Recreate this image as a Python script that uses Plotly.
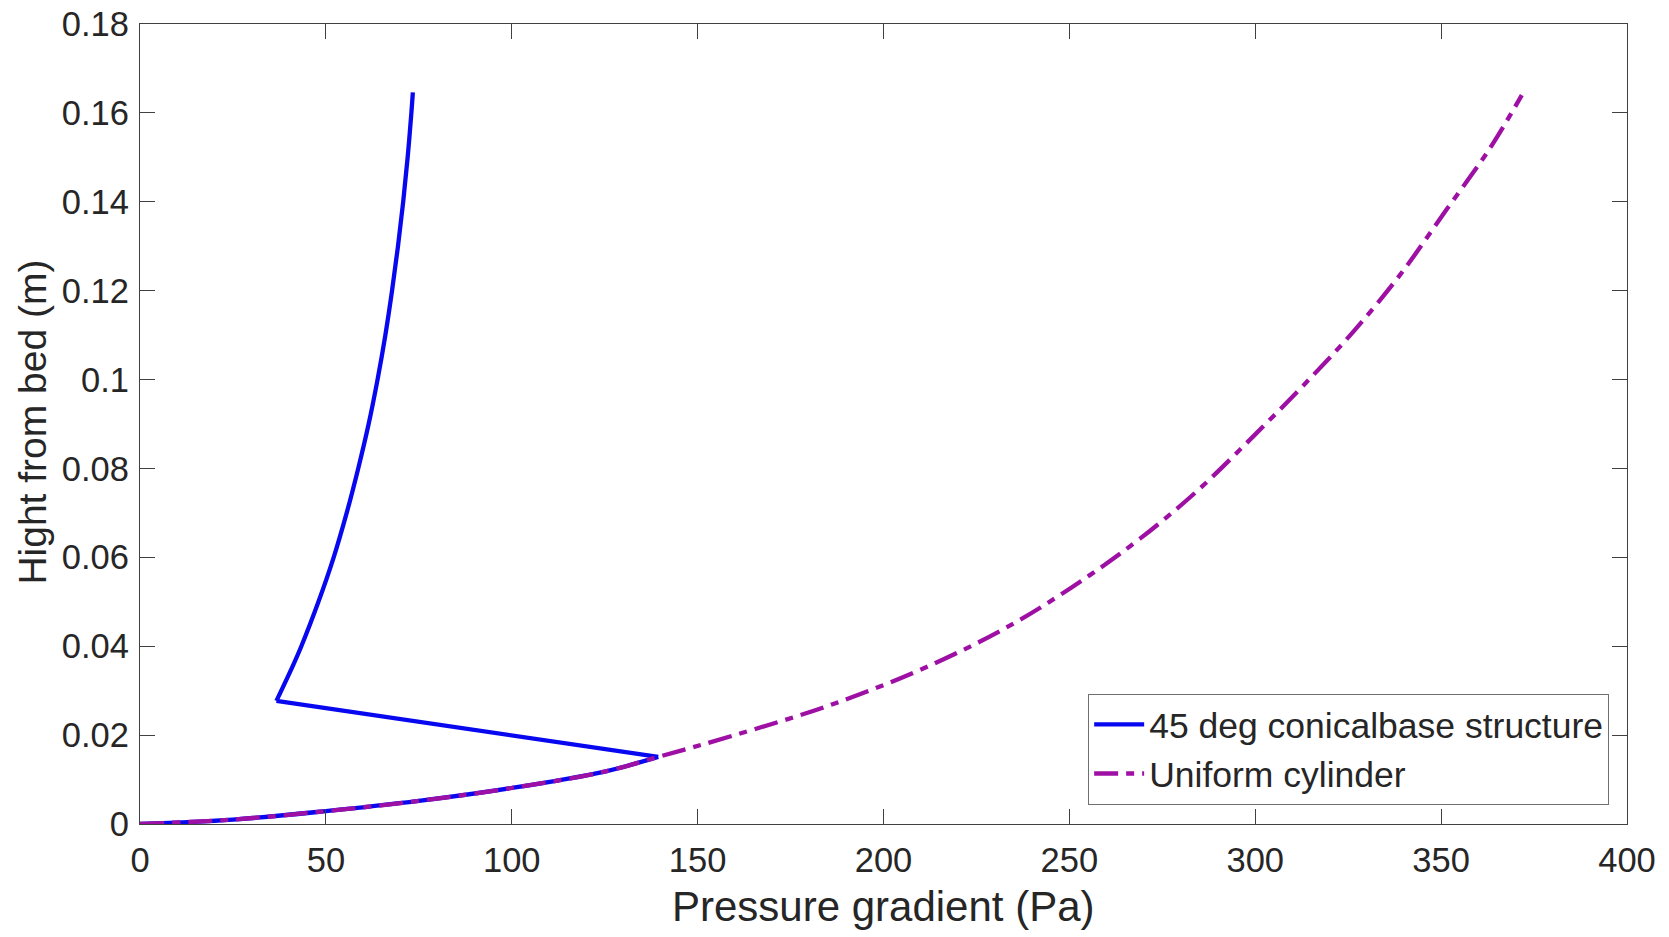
import plotly.graph_objects as go

# Pressure gradient (Pa) vs height above the bed (m)

# Uniform cylinder
cyl_pressure = [0, 25, 50, 75, 100, 125, 139.4, 159.6, 186.5, 213.4, 235.8, 255.5,
                269.0, 284.2, 300.4, 315.6, 326.4, 338.9, 351.5, 363.1, 371.7]
cyl_height = [0, 0.0010, 0.0029, 0.0052, 0.0081, 0.0118, 0.0151, 0.0199, 0.0270,
              0.0360, 0.0455, 0.0560, 0.0642, 0.0748, 0.0880, 0.1010, 0.1108,
              0.1235, 0.1383, 0.1520, 0.1640]

# 45 deg conical base: follows the cylinder up to the cone top, then drops back
cone_pressure = [0, 25, 50, 75, 100, 125, 139.4,
                 36.7, 40.8, 43.4, 48.0, 52.1, 55.6, 58.7, 61.5, 63.9, 66.0,
                 67.8, 69.4, 70.8, 72.0, 73.0, 73.4]
cone_height = [0, 0.0010, 0.0029, 0.0052, 0.0081, 0.0118, 0.0151,
               0.0277, 0.035, 0.040, 0.050, 0.060, 0.070, 0.080, 0.090, 0.100,
               0.110, 0.120, 0.130, 0.140, 0.150, 0.160, 0.1646]
CONE_TOP = 6      # index where the cone section ends
CONE_KINK = 7     # index of the lowest point of the straight section above

x_ticks = [0, 50, 100, 150, 200, 250, 300, 350, 400]
y_ticks = [0, 0.02, 0.04, 0.06, 0.08, 0.10, 0.12, 0.14, 0.16, 0.18]
y_tick_text = ["0", "0.02", "0.04", "0.06", "0.08", "0.1", "0.12", "0.14", "0.16", "0.18"]

x_title = "Pressure gradient (Pa)"
y_title = "Hight from bed (m)"

FONT = "Liberation Sans, Arial, Helvetica, sans-serif"
TEXT = "#262626"
AXIS = "#404040"
BLUE = "#0808f0"
MAGENTA = "#9e10a4"
LW = 4.3

fig = go.Figure()

# the conical-base curve is smooth on each side of its two corners,
# so it is drawn as three pieces sharing one legend entry
pieces = [
    (slice(0, CONE_TOP + 1), "spline", True),
    (slice(CONE_TOP, CONE_KINK + 1), "linear", False),
    (slice(CONE_KINK, None), "spline", False),
]
for sl, shape, show in pieces:
    fig.add_trace(go.Scatter(
        x=cone_pressure[sl], y=cone_height[sl], mode="lines",
        name="45 deg conicalbase structure", legendgroup="cone", showlegend=show,
        line=dict(color=BLUE, width=LW, shape=shape, smoothing=1.0),
    ))

fig.add_trace(go.Scatter(
    x=cyl_pressure, y=cyl_height, mode="lines",
    name="Uniform cylinder",
    line=dict(color=MAGENTA, width=LW, dash="24px,8px,8px,8px",
              shape="spline", smoothing=1.0),
))

axis_common = dict(
    showline=True, linecolor=AXIS, linewidth=1.3, mirror="ticks",
    ticks="inside", ticklen=15, tickwidth=1.3, tickcolor=AXIS,
    showgrid=False, zeroline=False, automargin=False,
    tickfont=dict(family=FONT, size=34.5, color=TEXT),
)

fig.update_xaxes(
    range=[0, 400], tickvals=x_ticks, ticktext=[str(v) for v in x_ticks],
    ticklabelstandoff=5, **axis_common,
)
fig.update_yaxes(
    range=[0, 0.18], tickvals=y_ticks, ticktext=y_tick_text,
    ticklabelstandoff=3, **axis_common,
)

# axis titles placed relative to the plotting area
fig.add_annotation(
    text=x_title, xref="paper", yref="paper", x=0.5, y=-0.1025,
    xanchor="center", yanchor="middle", showarrow=False,
    font=dict(family=FONT, size=42, color=TEXT),
)
fig.add_annotation(
    text=y_title, xref="paper", yref="paper", x=-0.0725, y=0.502,
    xanchor="center", yanchor="middle", textangle=-90, showarrow=False,
    font=dict(family=FONT, size=39, color=TEXT),
)

fig.update_layout(
    width=1669, height=937,
    margin=dict(l=140, r=42, t=24, b=113),
    paper_bgcolor="white", plot_bgcolor="white",
    font=dict(family=FONT, color=TEXT),
    legend=dict(
        x=0.988, y=0.024, xanchor="right", yanchor="bottom",
        bgcolor="white", bordercolor="#707070", borderwidth=1,
        font=dict(family=FONT, size=35.5, color=TEXT),
        tracegroupgap=0, itemwidth=50,
    ),
    showlegend=True,
)

fig.write_html("out.html")
